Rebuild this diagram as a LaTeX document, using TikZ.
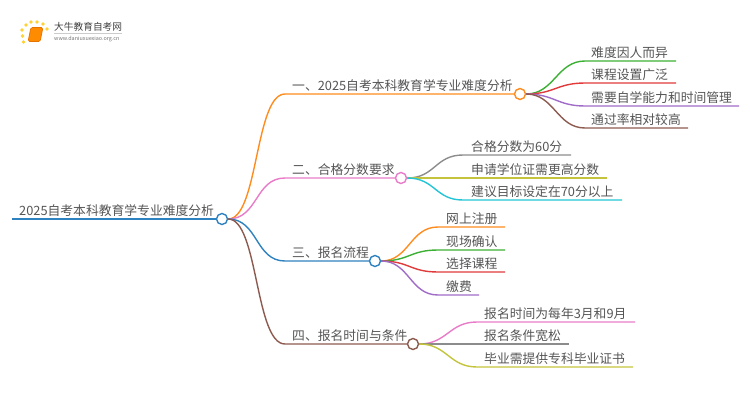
\documentclass[tikz,border=0pt]{standalone}
\usepackage{fontspec}
\setmainfont{Noto Sans CJK SC}
\usepackage{xcolor}
\usetikzlibrary{positioning}
\definecolor{cblue}{HTML}{2F82C0}
\definecolor{corange}{HTML}{FF8C1F}
\definecolor{cpink}{HTML}{E87CC8}
\definecolor{cbrown}{HTML}{8C5A4F}
\definecolor{cgreen}{HTML}{3CB034}
\definecolor{cred}{HTML}{E03A3A}
\definecolor{cpurple}{HTML}{A06CC8}
\definecolor{cgray}{HTML}{8C8C8C}
\definecolor{colive}{HTML}{C4C43C}
\definecolor{ccyan}{HTML}{22C4D6}
\definecolor{ctext}{HTML}{555555}

\begin{document}
\begin{tikzpicture}[
  x=1pt, y=-1pt,
  font=\fontsize{12.8pt}{14pt}\selectfont,
  txt/.style={anchor=base west, inner sep=0pt, text=ctext},
  hub/.style={circle, draw, fill=white, line width=1.4pt, minimum size=11pt, inner sep=0pt},
  branch/.style={line width=1.4pt},
  link/.style={out=0, in=180, distance=30pt},
  sublink/.style={out=0, in=180, distance=28pt},
  sun/.style={circle, fill=orange!45!yellow!80, inner sep=0pt, minimum size=3.8pt}
]
\useasboundingbox (0,0) rectangle (750,410);

% logo
\foreach \px/\py in {47/29,43/24,37/22,31/22,26/25,22/30,22.5/36,23.5/42}
  \node[sun] at (\px,\py) {};
\node[draw=orange!90!black, fill=orange!90!yellow, rounded corners=1.5pt, line width=0.7pt, minimum width=12pt, minimum height=14pt, inner sep=0pt, xslant=0.2] (book) at (35.5,34.5) {};
\node[txt, font=\fontsize{9.7pt}{11pt}\selectfont, text=black!75] (brand) at (54,30) {大牛教育自考网};
\node[txt, font=\fontsize{5.4pt}{6pt}\selectfont, text=black!55] (site) at (54,40.5) {www.daniuxuexiao.org.cn};
\draw[black!20, line width=0.4pt] (brand.base west) ++(0,3) -- ++(68,0);

% hubs
\node[hub, draw=cblue] (root) at (222,219) {};
\node[hub, draw=corange] (one) at (520,94) {};
\node[hub, draw=cpink] (two) at (401,178) {};
\node[hub, draw=cblue] (three) at (375,261) {};
\node[hub, draw=cbrown] (four) at (413,344) {};

\coordinate (rootstart) at (12,219);
\coordinate (onein) at (285,94);
\coordinate (twoin) at (285,178);
\coordinate (threein) at (285,261);
\coordinate (fourin) at (285,344);

% first level
\draw[branch, cblue] (rootstart) -- (root);
\draw[branch, corange] (root) to[link] (onein) -- (one);
\draw[branch, cpink] (root) to[link] (twoin) -- (two);
\draw[branch, cblue] (root) to[link] (threein) -- (three);
\draw[branch, cbrown] (root) to[link] (fourin) -- (four);

\node[txt] (roottext) at (19,215) {2025自考本科教育学专业难度分析};
\node[txt] (onetext) at (292,90) {一、2025自考本科教育学专业难度分析};
\node[txt] (twotext) at (292,174) {二、合格分数要求};
\node[txt] (threetext) at (292,257) {三、报名流程};
\node[txt] (fourtext) at (292,340) {四、报名时间与条件};

% one
\coordinate (a1) at (585,61); \coordinate (a1e) at (676,61);
\coordinate (a2) at (585,83); \coordinate (a2e) at (676,83);
\coordinate (a3) at (585,106); \coordinate (a3e) at (739,106);
\coordinate (a4) at (585,128); \coordinate (a4e) at (688,128);
\draw[branch, cgreen] (one) to[sublink] (a1) -- (a1e);
\draw[branch, cred] (one) to[sublink] (a2) -- (a2e);
\draw[branch, cpurple] (one) to[sublink] (a3) -- (a3e);
\draw[branch, cbrown] (one) to[sublink] (a4) -- (a4e);
\node[txt] (a1text) at (591,57) {难度因人而异};
\node[txt] (a2text) at (591,79) {课程设置广泛};
\node[txt] (a3text) at (591,102) {需要自学能力和时间管理};
\node[txt] (a4text) at (591,124) {通过率相对较高};

% two
\coordinate (b1) at (463,155); \coordinate (b1e) at (571,155);
\coordinate (b2) at (463,178); \coordinate (b2e) at (607,178);
\coordinate (b3) at (463,200); \coordinate (b3e) at (622,200);
\draw[branch, cgray] (two) to[sublink] (b1) -- (b1e);
\draw[branch, colive] (two) to[sublink] (b2) -- (b2e);
\draw[branch, ccyan] (two) to[sublink] (b3) -- (b3e);
\node[txt] (b1text) at (471,151) {合格分数为60分};
\node[txt] (b2text) at (471,174) {申请学位证需更高分数};
\node[txt] (b3text) at (471,196) {建议目标设定在70分以上};

% three
\coordinate (c1) at (438,227); \coordinate (c1e) at (505,227);
\coordinate (c2) at (438,250); \coordinate (c2e) at (505,250);
\coordinate (c3) at (438,272); \coordinate (c3e) at (505,272);
\coordinate (c4) at (438,295); \coordinate (c4e) at (479,295);
\draw[branch, corange] (three) to[sublink] (c1) -- (c1e);
\draw[branch, cgreen] (three) to[sublink] (c2) -- (c2e);
\draw[branch, cred] (three) to[sublink] (c3) -- (c3e);
\draw[branch, cpurple] (three) to[sublink] (c4) -- (c4e);
\node[txt] (c1text) at (446,223) {网上注册};
\node[txt] (c2text) at (446,246) {现场确认};
\node[txt] (c3text) at (446,268) {选择课程};
\node[txt] (c4text) at (446,291) {缴费};

% four
\coordinate (d1) at (477,322); \coordinate (d1e) at (635,322);
\coordinate (d2) at (477,344); \coordinate (d2e) at (569,344);
\coordinate (d3) at (477,367); \coordinate (d3e) at (633,367);
\draw[branch, cpink] (four) to[sublink] (d1) -- (d1e);
\draw[branch, cgray] (four) to[sublink] (d2) -- (d2e);
\draw[branch, colive] (four) to[sublink] (d3) -- (d3e);
\node[txt] (d1text) at (484,318) {报名时间为每年3月和9月};
\node[txt] (d2text) at (484,340) {报名条件宽松};
\node[txt] (d3text) at (484,363) {毕业需提供专科毕业证书};
\end{tikzpicture}
\end{document}
